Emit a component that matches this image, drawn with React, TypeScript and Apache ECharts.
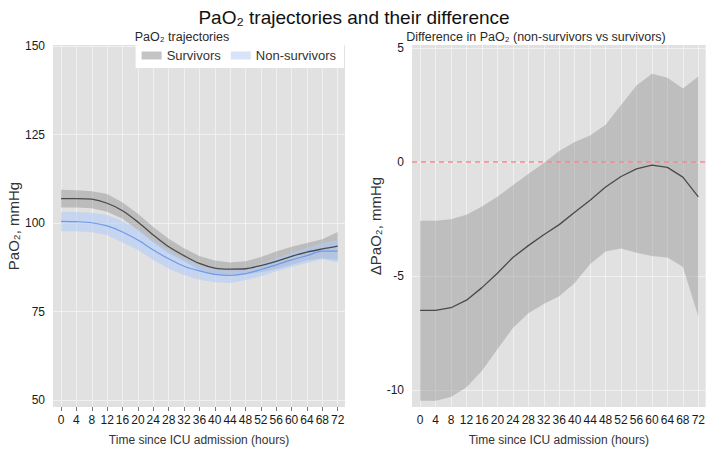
import React, { useEffect, useRef } from "react";
import * as echarts from "echarts";

const hours = [0, 4, 8, 12, 16, 20, 24, 28, 32, 36, 40, 44, 48, 52, 56, 60, 64, 68, 72];
const xTicks = hours;
const leftYTicks = [50, 75, 100, 125, 150];
const rightYTicks = [-10, -5, 0, 5];

const survMean = [106.9, 106.9, 106.75, 105.6, 103.5, 100.3, 96.6, 93.3, 90.8, 88.6, 87.3, 87.0, 87.1, 88.0, 89.2, 90.6, 91.8, 92.7, 93.5];
const survUpper = [109.4, 109.3, 109.0, 108.2, 105.8, 102.6, 98.9, 95.6, 92.9, 90.7, 89.4, 88.9, 89.2, 90.4, 92.0, 93.3, 94.4, 95.4, 97.5];
const survLower = [104.4, 104.4, 104.2, 103.2, 101.2, 98.0, 94.5, 91.5, 89.2, 86.8, 85.5, 85.2, 85.5, 86.1, 87.0, 88.2, 89.4, 90.1, 89.6];
const nonMean = [100.5, 100.4, 100.1, 99.2, 97.5, 95.2, 92.4, 89.9, 87.8, 86.5, 85.5, 85.2, 85.7, 86.9, 88.2, 89.6, 90.8, 92.1, 92.1];
const nonUpper = [103.2, 103.1, 102.9, 102.3, 100.5, 98.3, 95.2, 92.4, 90.1, 88.1, 86.9, 86.6, 87.3, 88.5, 90.1, 91.7, 93.1, 94.4, 95.2];
const nonLower = [97.7, 97.7, 97.4, 96.6, 94.5, 92.4, 89.6, 87.1, 85.3, 84.0, 83.3, 83.1, 83.9, 85.0, 86.4, 87.6, 88.7, 89.8, 88.9];

const diffMean = [-6.5, -6.5, -6.38, -6.05, -5.5, -4.87, -4.18, -3.66, -3.18, -2.74, -2.2, -1.67, -1.09, -0.63, -0.3, -0.13, -0.23, -0.66, -1.52];
const diffUpper = [-2.57, -2.57, -2.5, -2.31, -1.95, -1.52, -1.02, -0.52, -0.04, 0.49, 0.88, 1.16, 1.64, 2.5, 3.36, 3.87, 3.69, 3.22, 3.75];
const diffLower = [-10.46, -10.46, -10.29, -9.86, -9.14, -8.2, -7.27, -6.62, -6.22, -5.88, -5.3, -4.47, -3.92, -3.79, -3.97, -4.11, -4.18, -4.58, -6.77];

const FONT = "'Liberation Sans', Arial, sans-serif";
const GRID_COLOR = "#f0f0f0";

const pairs = (ys: number[]) => hours.map((h, i) => [h, ys[i]]);

function bandSeries(name: string, axis: number, lo: number[], up: number[], fill: string, legendColor: string) {
  return {
    name,
    type: "custom",
    xAxisIndex: axis,
    yAxisIndex: axis,
    z: 3,
    silent: true,
    itemStyle: { color: legendColor },
    data: hours.map((h, i) => [h, lo[i], up[i]]),
    encode: { x: 0, y: [1, 2] },
    renderItem: (params: any, api: any) => {
      if (params.dataIndex !== 0) return { type: "group", children: [] };
      const top = hours.map((h, i) => api.coord([h, up[i]]));
      const bot = hours.map((h, i) => api.coord([h, lo[i]])).reverse();
      return {
        type: "polygon",
        shape: { points: top.concat(bot) },
        style: { fill, stroke: "none" },
      };
    },
  };
}

function gridLinesSeries(axis: number, yTicks: number[]) {
  return {
    name: "grid" + axis,
    type: "line",
    xAxisIndex: axis,
    yAxisIndex: axis,
    data: [],
    symbol: "none",
    silent: true,
    z: 1,
    markLine: {
      silent: true,
      symbol: "none",
      z: 1,
      label: { show: false },
      lineStyle: { color: GRID_COLOR, type: "solid", width: 1 },
      data: [
        ...xTicks.map((v) => ({ xAxis: v })),
        ...yTicks.map((v) => ({ yAxis: v })),
      ],
    },
  };
}

export default function App() {
  const ref = useRef<HTMLDivElement>(null);
  useEffect(() => {
    if (!ref.current) return;
    const chart = echarts.init(ref.current, null, { renderer: "svg" });
    const xAxisBase = (gridIndex: number) => ({
      type: "value",
      gridIndex,
      min: -2.1,
      max: 73.9,
      name: "Time since ICU admission (hours)",
      nameLocation: "middle",
      nameGap: 27,
      nameTextStyle: { fontFamily: FONT, fontSize: 12, color: "#333" },
      axisLine: { show: false },
      axisTick: { show: true, length: 4, lineStyle: { color: "#777" }, customValues: xTicks },
      axisLabel: { fontFamily: FONT, fontSize: 12, color: "#1a1a1a", margin: 7, customValues: xTicks },
      splitLine: { show: false },
    });
    const yAxisBase = (gridIndex: number, min: number, max: number, name: string, ticks: number[], gap: number) => ({
      type: "value",
      gridIndex,
      min,
      max,
      name,
      nameLocation: "middle",
      nameGap: gap,
      nameTextStyle: { fontFamily: FONT, fontSize: 15, color: "#333" },
      axisLine: { show: false },
      axisTick: { show: true, length: 4, lineStyle: { color: "#777" }, customValues: ticks },
      axisLabel: { fontFamily: FONT, fontSize: 12, color: "#1a1a1a", margin: 8, customValues: ticks },
      splitLine: { show: false },
    });
    const option: any = {
      animation: false,
      title: [
        {
          text: "PaO₂ trajectories and their difference",
          left: "center",
          top: 3,
          textStyle: { fontFamily: FONT, fontSize: 19, fontWeight: "normal", color: "#111" },
        },
        {
          text: "PaO₂ trajectories",
          left: 177,
          textAlign: "center",
          top: 25,
          textStyle: { fontFamily: FONT, fontSize: 12.5, fontWeight: "normal", color: "#2a2a2a" },
        },
        {
          text: "Difference in PaO₂ (non-survivors vs survivors)",
          left: 531,
          textAlign: "center",
          top: 25,
          textStyle: { fontFamily: FONT, fontSize: 12.5, fontWeight: "normal", color: "#2a2a2a" },
        },
      ],
      legend: {
        right: 364,
        top: 43,
        backgroundColor: "#ffffff",
        padding: [6, 8, 6, 6],
        itemGap: 10,
        itemWidth: 20,
        itemHeight: 8,
        textStyle: { fontFamily: FONT, fontSize: 13, color: "#333" },
        data: [
          { name: "Survivors", icon: "rect", itemStyle: { color: "#c4c4c4", borderWidth: 0 } },
          { name: "Non-survivors", icon: "rect", itemStyle: { color: "#d6e3f8", borderWidth: 0 } },
        ],
      },
      grid: [
        { left: 53, right: 363, top: 45, bottom: 38, show: true, backgroundColor: "#e1e1e1", borderWidth: 0 },
        { left: 412, right: 1, top: 45, bottom: 38, show: true, backgroundColor: "#e1e1e1", borderWidth: 0 },
      ],
      xAxis: [xAxisBase(0), xAxisBase(1)],
      yAxis: [
        yAxisBase(0, 48.05, 150.3, "PaO₂, mmHg", leftYTicks, 31),
        yAxisBase(1, -10.73, 5.13, "ΔPaO₂, mmHg", rightYTicks, 29),
      ],
      series: [
        gridLinesSeries(0, leftYTicks),
        gridLinesSeries(1, rightYTicks),
        bandSeries("Survivors", 0, survLower, survUpper, "rgba(128,128,128,0.38)", "#c4c4c4"),
        bandSeries("Non-survivors", 0, nonLower, nonUpper, "rgba(175,203,252,0.55)", "#d6e3f8"),
        {
          name: "survMean",
          type: "line",
          xAxisIndex: 0,
          yAxisIndex: 0,
          z: 4,
          data: pairs(survMean),
          symbol: "none",
          smooth: 0.3,
          lineStyle: { color: "#4a4a4a", width: 1.3 },
          silent: true,
        },
        {
          name: "nonMean",
          type: "line",
          xAxisIndex: 0,
          yAxisIndex: 0,
          z: 4,
          data: pairs(nonMean),
          symbol: "none",
          smooth: 0.3,
          lineStyle: { color: "#6d9bec", width: 1.2 },
          silent: true,
        },
        bandSeries("diffBand", 1, diffLower, diffUpper, "rgba(128,128,128,0.36)", "#bebebe"),
        {
          name: "diffMean",
          type: "line",
          xAxisIndex: 1,
          yAxisIndex: 1,
          z: 4,
          data: pairs(diffMean),
          symbol: "none",
          lineStyle: { color: "#4a4a4a", width: 1.3 },
          silent: true,
          markLine: {
            silent: true,
            symbol: "none",
            label: { show: false },
            lineStyle: { color: "#ef8a8a", type: [5, 4], width: 1.5 },
            data: [{ yAxis: 0 }],
          },
        },
      ],
    };
    chart.setOption(option);
    return () => chart.dispose();
  }, []);
  return (
    <div
      ref={ref}
      style={{ position: "fixed", left: 0, top: 0, width: 708, height: 451, background: "#ffffff" }}
    />
  );
}
